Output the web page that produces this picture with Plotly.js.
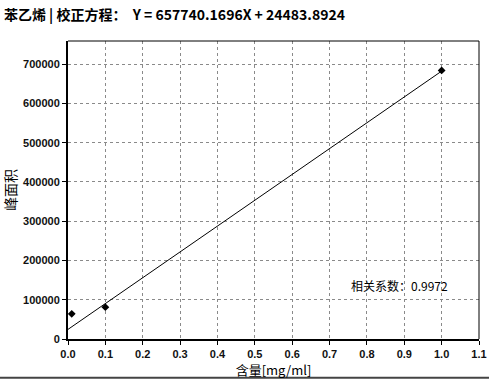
<!DOCTYPE html>
<html>
<head>
<meta charset="utf-8">
<script src="https://cdn.plot.ly/plotly-3.0.1.min.js"></script>
<style>
html,body{margin:0;padding:0;background:#fff;}
#chart{width:489px;height:381px;}
</style>
</head>
<body>
<div id="chart"></div>
<script>
// Calibration data
const concentration = [0.01, 0.1, 1.0];          // mg/ml
const peakArea = [64000, 81000, 684000];
// Regression (from the title)
const slope = 657740.1696;
const intercept = 24483.8924;
const r = 0.9972;
const fitX = [0, 1.0];
const fitY = fitX.map(x => slope * x + intercept);
const xTicks = [0, 0.1, 0.2, 0.3, 0.4, 0.5, 0.6, 0.7, 0.8, 0.9, 1.0, 1.1];
const yTicks = [0, 100000, 200000, 300000, 400000, 500000, 600000, 700000];

const tickFont = {family: 'Liberation Sans, Arial, sans-serif', size: 11, color: '#111', weight: 'bold'};

const traces = [
  {x: fitX, y: fitY, mode: 'lines', line: {color: '#000', width: 1}, hoverinfo: 'skip'},
  {x: concentration, y: peakArea, mode: 'markers',
   marker: {symbol: 'diamond', size: 6, color: '#000'}}
];

const layout = {
  width: 489, height: 381,
  margin: {l: 68, r: 10, t: 41, b: 42},
  paper_bgcolor: '#fff', plot_bgcolor: '#fff',
  showlegend: false,
  title: {
    text: '<b>苯乙烯 | 校正方程：  Y = 657740.1696X + 24483.8924</b>',
    font: {family: 'Noto Sans CJK SC, sans-serif', size: 14, color: '#000'},
    x: 0.008, xanchor: 'left', y: 0.972, yanchor: 'top'
  },
  xaxis: {
    range: [0, 1.1], tickvals: xTicks,
    ticktext: xTicks.map(v => v.toFixed(1)),
    showgrid: true, gridcolor: '#8a8a8a', griddash: '3px,3px', gridwidth: 1,
    zeroline: false, showline: true, linecolor: '#000', linewidth: 2, mirror: false,
    ticks: 'outside', ticklen: 4, tickcolor: '#000',
    tickfont: tickFont,
    title: {text: '含量[mg/ml]', font: {family: 'Noto Sans CJK SC, sans-serif', size: 13, color: '#000'}, standoff: 0}
  },
  yaxis: {
    range: [0, 759000], tickvals: yTicks,
    ticktext: yTicks.map(v => String(v)),
    showgrid: true, gridcolor: '#8a8a8a', griddash: '3px,3px', gridwidth: 1,
    zeroline: false, showline: true, linecolor: '#000', linewidth: 2,
    ticks: 'outside', ticklen: 4, tickcolor: '#000',
    tickfont: tickFont,
    title: {text: '峰面积', font: {family: 'Noto Sans CJK SC, sans-serif', size: 14, color: '#000'}, standoff: 8}
  },
  shapes: [
    {type: 'line', xref: 'paper', yref: 'paper', x0: 0, x1: 1, y0: 1, y1: 1, line: {color: '#000', width: 1}},
    {type: 'line', xref: 'paper', yref: 'paper', x0: 1, x1: 1, y0: 0, y1: 1, line: {color: '#000', width: 1}},
    {type: 'line', xref: 'paper', yref: 'paper', x0: -0.2, x1: 1.1, y0: -0.13, y1: -0.13, line: {color: '#444', width: 2}}
  ],
  annotations: [
    {text: '相关系数：' + r.toFixed(4), xref: 'paper', yref: 'paper', x: 0.93, y: 0.18,
     xanchor: 'right', yanchor: 'middle', showarrow: false,
     font: {family: 'Noto Sans CJK SC, sans-serif', size: 12, color: '#000'}}
  ]
};

Plotly.newPlot('chart', traces, layout, {displayModeBar: false, staticPlot: true});
</script>
</body>
</html>
